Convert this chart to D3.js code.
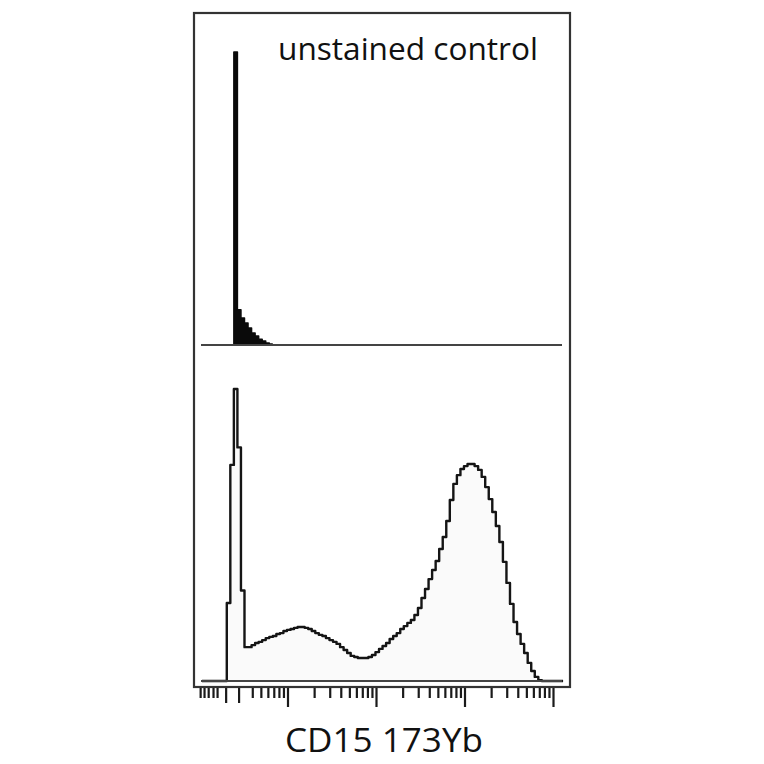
<!DOCTYPE html>
<html>
<head>
<meta charset="utf-8">
<script src="https://cdn.jsdelivr.net/npm/d3@7"></script>
<style>
  body { margin: 0; background: #fff; }
  svg { display: block; }
</style>
</head>
<body>
<div id="chart"></div>
<script>
// histogram bins: equal width in log10 units
const binLogStart = 0.034;
const binLogWidth = 0.04;

// unstained control (top panel), relative counts per bin
const topCounts = [
  0, 0, 0, 0, 0, 0, 0, 0, 0, 100,
  12, 9.2, 7.5, 5.8, 4.1, 3.1, 2.0, 1.4, 0.7, 0.3
];

// CD15 stained (bottom panel), relative counts per bin
const bottomCounts = [
  0, 0, 0, 0, 0, 0, 0, 26.7, 74, 100,
  80, 31, 11.6, 11.6, 12.3, 13.0, 13.4, 14.0, 14.7, 15.1,
  15.4, 16.1, 16.4, 17.1, 17.5, 17.8, 18.2, 18.5, 18.5, 18.2,
  17.8, 17.1, 16.4, 15.8, 15.4, 14.7, 14.0, 13.4, 12.7, 11.6,
  10.6, 9.6, 8.6, 8.2, 7.9, 7.9, 7.9, 8.2, 8.9, 9.9,
  11.0, 12.0, 13.0, 14.4, 15.4, 16.4, 17.8, 18.8, 19.9, 20.9,
  22.6, 25.0, 28.4, 31.5, 34.9, 38.0, 41.1, 45.2, 49.3, 54.8,
  62.0, 67.5, 70.5, 72.6, 73.6, 74.3, 74.3, 73.6, 72.3, 69.9,
  66.4, 62.3, 57.9, 53.1, 47.6, 40.8, 33.6, 26.4, 20.2, 16.1,
  12.7, 9.6, 6.2, 3.4, 1.4, 0.3, 0, 0, 0, 0,
  0, 0
];

// axis ticks (log scale, no labels)
const majorTicks = [10, 100, 1000, 10000];
const midTicks = [2, 2.8];
const minorTicks = [
  1.03, 1.14, 1.27, 1.44, 1.6, 4, 5, 6, 7, 8, 9,
  20, 30, 40, 50, 60, 70, 80, 90,
  200, 300, 400, 500, 600, 700, 800, 900,
  2000, 3000, 4000, 5000, 6000, 7000, 8000, 9000
];

const titleText = "unstained control";
const axisLabel = "CD15 173Yb";

const width = 764, height = 764;
const svg = d3.select("#chart").append("svg")
  .attr("width", width)
  .attr("height", height);

const x = d3.scaleLog().domain([1, 10000]).range([199, 553]);
const plotLeft = 201, plotRight = 562;

const yTop = d3.scaleLinear().domain([0, 100]).range([345, 52]);
const yBottom = d3.scaleLinear().domain([0, 100]).range([681, 389]);

// turn counts into step points at bin edges
function stepPoints(counts) {
  const pts = counts.map((c, i) => ({ v: Math.pow(10, binLogStart + i * binLogWidth), c: c }));
  pts.push({ v: Math.pow(10, binLogStart + counts.length * binLogWidth), c: counts[counts.length - 1] });
  return pts;
}

function drawHist(counts, y, fill, stroke, sw) {
  const pts = stepPoints(counts);
  const area = d3.area()
    .curve(d3.curveStepAfter)
    .x(d => x(d.v))
    .y0(y(0))
    .y1(d => y(d.c));
  const line = d3.line()
    .curve(d3.curveStepAfter)
    .x(d => x(d.v))
    .y(d => y(d.c));
  svg.append("path")
    .attr("d", area(pts))
    .attr("fill", fill);
  svg.append("path")
    .attr("d", line(pts))
    .attr("fill", "none")
    .attr("stroke", stroke)
    .attr("stroke-width", sw)
    .attr("stroke-linejoin", "round");
}

// outer frame
svg.append("rect")
  .attr("x", 194).attr("y", 13)
  .attr("width", 376).attr("height", 674)
  .attr("fill", "#fff")
  .attr("stroke", "#333")
  .attr("stroke-width", 2.2);

// top panel: filled black
drawHist(topCounts, yTop, "#0a0a0a", "#0a0a0a", 1.5);
// bottom panel: outlined
drawHist(bottomCounts, yBottom, "#fafafa", "#151515", 2.4);

// baselines
[yTop(0), yBottom(0)].forEach(yy => {
  svg.append("line")
    .attr("x1", plotLeft).attr("x2", plotRight)
    .attr("y1", yy).attr("y2", yy)
    .attr("stroke", "#444")
    .attr("stroke-width", 2.2);
});

// log tick marks under the frame
const axisY = 688;
function tickRow(values, size) {
  const g = svg.append("g")
    .attr("transform", `translate(0,${axisY})`)
    .call(d3.axisBottom(x).tickValues(values).tickSize(size).tickFormat(""));
  g.select(".domain").remove();
  g.selectAll(".tick line")
    .attr("stroke", "#1a1a1a")
    .attr("stroke-width", 2.2);
}
tickRow(minorTicks, 10);
tickRow(midTicks, 15);
tickRow(majorTicks, 19);

// labels
svg.append("text")
  .attr("x", 278).attr("y", 60)
  .attr("textLength", 260)
  .attr("lengthAdjust", "spacingAndGlyphs")
  .style("font-family", "'Open Sans', sans-serif")
  .style("font-size", "31px")
  .style("fill", "#111")
  .text(titleText);

svg.append("text")
  .attr("x", 285).attr("y", 752)
  .attr("textLength", 198)
  .attr("lengthAdjust", "spacingAndGlyphs")
  .style("font-family", "'Open Sans', sans-serif")
  .style("font-size", "33px")
  .style("fill", "#111")
  .text(axisLabel);
</script>
</body>
</html>
